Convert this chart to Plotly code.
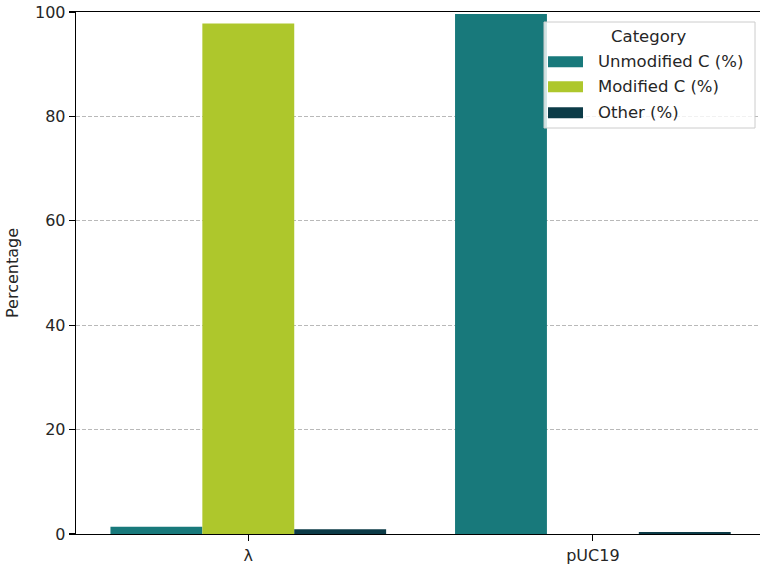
import plotly.graph_objects as go

# ---- data ----
samples = ["λ", "pUC19"]
series_names = ["Unmodified C (%)", "Modified C (%)", "Other (%)"]
unmodified = [1.4, 99.6]
modified = [97.8, 0.0]
other = [0.9, 0.4]
colors = ["#18797b", "#aec72c", "#0c3b47"]
y_ticks = [0, 20, 40, 60, 80, 100]

W, H = 760, 566
L, R, T, B = 76, 0, 12, 32
PW, PH = W - L - R, H - T - B

fig = go.Figure()
for name, vals, col in zip(series_names, [unmodified, modified, other], colors):
    fig.add_trace(go.Bar(x=samples, y=vals, name=name, marker=dict(color=col, line=dict(width=0)),
                         showlegend=False))

FONT = "DejaVu Sans"
TXT = "#262626"

def px_x(x):
    return (x - L) / PW

def px_y(y):
    return (H - B - y) / PH

shapes = []
annotations = []
# legend box
shapes.append(dict(type="rect", xref="paper", yref="paper",
                   x0=px_x(544), x1=px_x(755), y0=px_y(128), y1=px_y(22),
                   fillcolor="rgba(255,255,255,0.8)", line=dict(color="#cccccc", width=1), layer="above"))
annotations.append(dict(xref="paper", yref="paper", x=px_x(649), y=px_y(36), text="Category",
                        showarrow=False, xanchor="center", yanchor="middle",
                        font=dict(family=FONT, size=16.5, color=TXT)))
row_y = [61.7, 86.7, 112.8]
for name, col, ry in zip(series_names, colors, row_y):
    shapes.append(dict(type="rect", xref="paper", yref="paper",
                       x0=px_x(548), x1=px_x(583), y0=px_y(ry + 5.5), y1=px_y(ry - 5.5),
                       fillcolor=col, line=dict(width=0), layer="above"))
    annotations.append(dict(xref="paper", yref="paper", x=px_x(596), y=px_y(ry), text=name,
                            showarrow=False, xanchor="left", yanchor="middle",
                            font=dict(family=FONT, size=16.5, color=TXT)))

fig.update_layout(
    width=W, height=H,
    margin=dict(l=L, r=R, t=T, b=B, pad=0),
    paper_bgcolor="white", plot_bgcolor="white",
    barmode="group", bargap=0.2, bargroupgap=0,
    font=dict(family=FONT, size=16, color=TXT),
    shapes=shapes, annotations=annotations,
    showlegend=False,
)
fig.update_xaxes(
    range=[-0.5, 1.485], showgrid=False, zeroline=False,
    showline=True, linecolor="black", linewidth=1.3, mirror=True,
    ticks="outside", ticklen=6, tickwidth=1.2, tickcolor="black",
    tickfont=dict(family=FONT, size=16, color=TXT),
)
fig.update_yaxes(
    range=[0, 100], tickvals=y_ticks, showgrid=True, gridcolor="#a8a8a8",
    griddash="4px,2px", gridwidth=0.8, zeroline=False,
    showline=True, linecolor="black", linewidth=1.3,
    ticks="outside", ticklen=6, tickwidth=1.2, tickcolor="black",
    tickfont=dict(family=FONT, size=16, color=TXT),
    title=dict(text="Percentage", font=dict(family=FONT, size=16, color=TXT), standoff=12),
)

fig.write_html("out.html", config={"displayModeBar": False, "staticPlot": True},
               post_script="document.body.style.margin='0';document.body.style.overflow='hidden';")
